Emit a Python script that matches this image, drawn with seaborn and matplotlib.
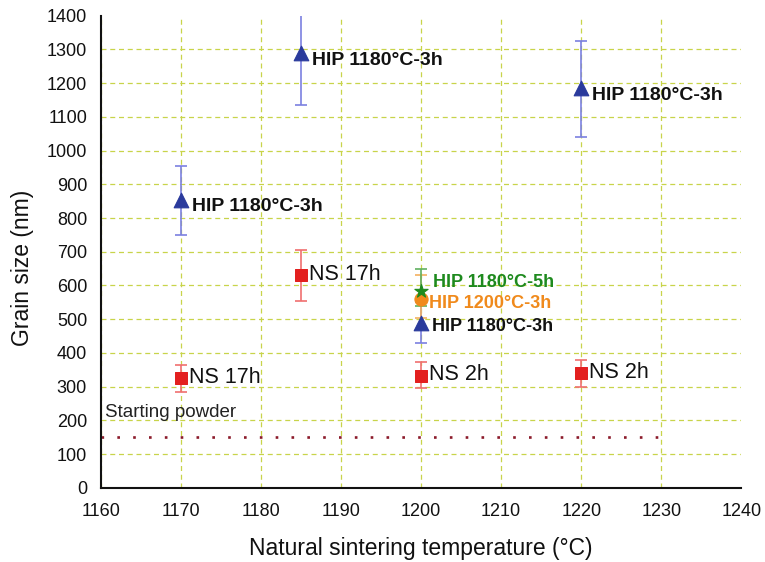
import matplotlib
matplotlib.use("Agg")
import matplotlib.pyplot as plt
import seaborn as sns
import pandas as pd
from matplotlib.ticker import MultipleLocator

sns.set_style("white")
plt.rcParams['font.family'] = ['Liberation Sans', 'DejaVu Sans']

# Data
hip3h_x = [1170, 1185, 1220, 1200]
hip3h_y = [855, 1290, 1185, 490]
hip3h_lo = [750, 1135, 1040, 430]
hip3h_hi = [955, 1445, 1325, 550]

ns_x = [1170, 1185, 1200, 1220]
ns_y = [325, 630, 333, 340]
ns_lo = [285, 555, 295, 300]
ns_hi = [365, 705, 372, 380]
ns_labels = ["NS 17h", "NS 17h", "NS 2h", "NS 2h"]

hip1200_x = [1200]
hip1200_y = [560]
hip1200_lo = [505]
hip1200_hi = [630]

hip5h_x = [1200]
hip5h_y = [585]
hip5h_lo = [540]
hip5h_hi = [650]

start_x = [1160, 1230]
start_y = [150, 150]

blue = "#2a3a9c"
blue_err = "#7b80e0"
red = "#e3201f"
red_err = "#f07070"
orange = "#f08a1c"
green = "#1e8a1e"

fig = plt.figure(figsize=(7.65, 5.62), dpi=100)
ax = fig.add_axes([0.132, 0.132, 0.837, 0.840])

def errs(y, lo, hi):
    return [[a - b for a, b in zip(y, lo)], [c - a for a, c in zip(y, hi)]]

ax.errorbar(hip3h_x, hip3h_y, yerr=errs(hip3h_y, hip3h_lo, hip3h_hi), fmt="none",
            ecolor=blue_err, elinewidth=1.2, capsize=4, capthick=1.2, zorder=3)
ax.errorbar(ns_x, ns_y, yerr=errs(ns_y, ns_lo, ns_hi), fmt="none",
            ecolor=red_err, elinewidth=1.2, capsize=4, capthick=1.2, zorder=3)
ax.errorbar(hip1200_x, hip1200_y, yerr=errs(hip1200_y, hip1200_lo, hip1200_hi), fmt="none",
            ecolor="#f4b060", elinewidth=1.2, capsize=4, capthick=1.2, zorder=3)
ax.errorbar(hip5h_x, hip5h_y, yerr=errs(hip5h_y, hip5h_lo, hip5h_hi), fmt="none",
            ecolor="#60b060", elinewidth=1.2, capsize=4, capthick=1.2, zorder=3)

sns.scatterplot(x=hip3h_x, y=hip3h_y, marker="^", s=110, color=blue, edgecolor=blue, ax=ax, zorder=4)
sns.scatterplot(x=ns_x, y=ns_y, marker="s", s=80, color=red, edgecolor=red, ax=ax, zorder=4)
sns.scatterplot(x=hip1200_x, y=hip1200_y, marker="o", s=90, color=orange, edgecolor=orange, ax=ax, zorder=4)
sns.scatterplot(x=hip5h_x, y=hip5h_y, marker="*", s=100, color=green, edgecolor=green, ax=ax, zorder=4)

sns.lineplot(x=start_x, y=start_y, color="#8b1a2a", linestyle=(0, (1, 5)), linewidth=1.9, ax=ax, zorder=2)

# annotations
for x, y in zip(hip3h_x[:3], hip3h_y[:3]):
    ax.text(x + 1.4, y - 22, "HIP 1180°C-3h", fontsize=14, fontweight="bold", color="#111111",
            va="center", ha="left", zorder=5)
ax.text(1201.3, 478, "HIP 1180°C-3h", fontsize=13, fontweight="bold", color="#111111", va="center", ha="left", zorder=5)
ax.text(1201.0, 546, "HIP 1200°C-3h", fontsize=13, fontweight="bold", color=orange, va="center", ha="left", zorder=5)
ax.text(1201.5, 610, "HIP 1180°C-5h", fontsize=13, fontweight="bold", color=green, va="center", ha="left", zorder=5)
for x, y, lab in zip(ns_x, ns_y, ns_labels):
    ax.text(x + 1.0, y + 2, lab, fontsize=15.5, color="#111111", va="center", ha="left", zorder=5)
ax.text(1160.5, 222, "Starting powder", fontsize=13.5, color="#222222", va="center", ha="left", zorder=5)

ax.set_xlim(1160, 1240)
ax.set_ylim(0, 1400)
ax.xaxis.set_major_locator(MultipleLocator(10))
ax.xaxis.set_minor_locator(MultipleLocator(5))
ax.yaxis.set_major_locator(MultipleLocator(100))
ax.yaxis.set_minor_locator(MultipleLocator(50))

ax.grid(True, which="major", color="#c8d44a", linestyle=(0, (4, 3)), linewidth=0.9, zorder=0)
ax.set_axisbelow(True)
fig.canvas.draw()
for gl in ax.get_ygridlines():
    if abs(gl.get_ydata()[0] - 1400) < 1e-6:
        gl.set_visible(False)
for gl in ax.get_xgridlines():
    if abs(gl.get_xdata()[0] - 1240) < 1e-6:
        gl.set_visible(False)

for s in ["top", "right"]:
    ax.spines[s].set_visible(False)
for s in ["left", "bottom"]:
    ax.spines[s].set_color("#111111")
    ax.spines[s].set_linewidth(1.5)

ax.tick_params(axis="both", which="major", colors="#111111", labelsize=13)
ax.tick_params(axis="y", which="major", direction="out", length=6, width=1.3, pad=4)
ax.tick_params(axis="y", which="minor", direction="out", length=4, width=1.2)
ax.tick_params(axis="x", which="major", direction="out", length=5, width=1.3, pad=6)
ax.tick_params(axis="x", which="minor", direction="in", length=4, width=1.2)

ax.set_xlabel("Natural sintering temperature (°C)", fontsize=16.5, color="#111111", labelpad=12)
ax.set_ylabel("Grain size (nm)", fontsize=16.5, color="#111111")
ax.yaxis.set_label_coords(-0.104, 0.465)

fig.savefig("out.png", dpi=100)
